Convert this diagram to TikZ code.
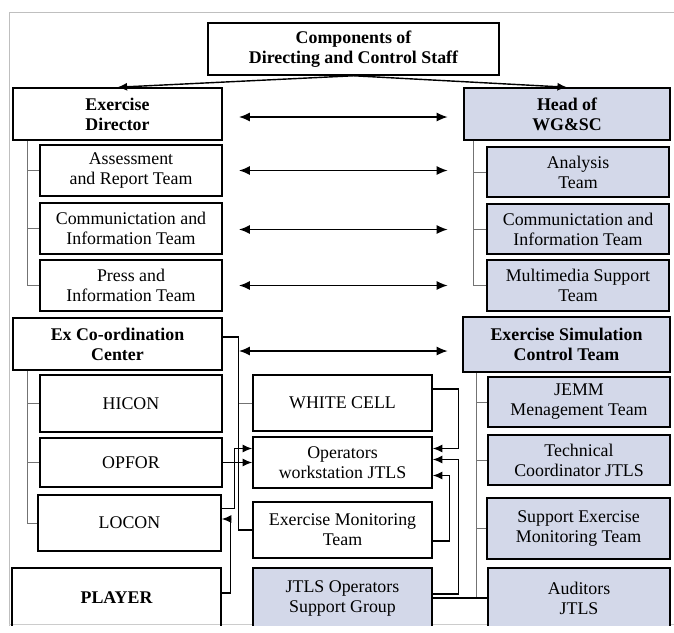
\documentclass[tikz,border=0pt]{standalone}
\usepackage{fontspec}
\setmainfont{Liberation Serif}
\usepackage{tikz}
\usetikzlibrary{calc,arrows.meta}
\definecolor{simblue}{RGB}{211,216,233}
\tikzset{
	box/.style={draw, line width=1.1pt, inner sep=0pt, align=center, font=\fontsize{12.7}{14.2}\selectfont},
	hbox/.style={box, font=\fontsize{12.7}{14.2}\selectfont\bfseries},
	sim/.style={fill=simblue},
	sz/.style 2 args={minimum width=#1*0.025cm, minimum height=#2*0.025cm},
	link/.style={line width=1pt},
	arr/.style={line width=1pt, -{Latex[length=2.4mm, width=2mm]}},
	darr/.style={line width=1.3pt, {Latex[length=2.8mm, width=2.3mm]}-{Latex[length=2.8mm, width=2.3mm]}},
	bus/.style={draw=black!55, line width=0.7pt}
}

\begin{document}
\begin{tikzpicture}[x=0.025cm, y=-0.025cm]
		%%%%% START %%%%%
		\useasboundingbox (0, 0) rectangle (674, 632);
		\begin{scope}
		\clip (0, 0) rectangle (674, 625);
		
		\draw[black!25, line width=0.6pt] (9, 632) -- (9, 12) -- (674, 12);
		\draw[black!20, line width=0.5pt] (9, 624.5) -- (674, 624.5);
		
		\node[hbox, sz={291}{52}] (top) at (353.5, 49) {Components of\\Directing and Control Staff};
		
		\node[hbox, sz={209}{52}] (ed) at (117.5, 114) {Exercise\\Director};
		\node[hbox, sim, sz={206}{52}] (head) at (567, 114) {Head of\\WG\&SC};
		
		\node[box, sz={182}{51}] (art) at (131, 170.5) {Assessment\\and Report Team};
		\node[box, sz={182}{51}] (cit) at (131, 228.5) {Communictation and\\Information Team};
		\node[box, sz={182}{51}] (pit) at (131, 285.5) {Press and\\Information Team};
		
		\node[box, sim, sz={182}{50}] (at) at (578, 172) {Analysis\\Team};
		\node[box, sim, sz={182}{50}] (cit2) at (578, 229) {Communictation and\\Information Team};
		\node[box, sim, sz={182}{51}] (mst) at (578, 285.5) {Multimedia Support\\Team};
		
		\node[hbox, sz={209}{52}] (ecc) at (117.5, 344) {Ex Co-ordination\\Center};
		\node[hbox, sim, sz={207}{55}] (esct) at (566.5, 344.5) {Exercise Simulation\\Control Team};
		
		\node[box, sz={182}{57}] (hicon) at (131, 403.5) {HICON};
		\node[box, sz={182}{49}] (opfor) at (131, 462.5) {OPFOR};
		\node[box, sz={183}{56}] (locon) at (129.5, 523) {LOCON};
		\node[hbox, sz={209}{60}] (player) at (116.5, 598) {PLAYER};
		
		\node[box, sz={179}{56}] (wc) at (342.5, 403) {WHITE CELL};
		\node[box, sz={179}{51}] (ows) at (342.5, 462.5) {Operators\\workstation JTLS};
		\node[box, sz={179}{56}] (emt) at (342.5, 530) {Exercise Monitoring\\Team};
		\node[box, sim, sz={179}{60}] (jos) at (342.5, 598) {JTLS Operators\\Support Group};
		
		\node[box, sim, sz={182}{50}] (jemm) at (579, 402) {JEMM\\Menagement Team};
		\node[box, sim, sz={182}{50}] (tc) at (579, 460) {Technical\\Coordinator JTLS};
		\node[box, sim, sz={183}{61}] (semt) at (578.5, 528.5) {Support Exercise\\Monitoring Team};
		\node[box, sim, sz={182}{60}] (aud) at (579, 598) {Auditors\\JTLS};
		
		% top level
		\draw[arr] (top.south) -- (ed.north);
		\draw[arr] (top.south) -- (head.north);
		
		\draw[darr] ($(ed.east)+(16, 3)$) -- ++(209, 0);
		\draw[darr] ($(art.east)+(16, 0)$) -- ++(209, 0);
		\draw[darr] ($(cit.east)+(16, 1)$) -- ++(209, 0);
		\draw[darr] ($(pit.east)+(16, 0)$) -- ++(209, 0);
		\draw[darr] ($(ecc.east)+(16, 7)$) -- ++(209, 0);
		
		% group lines
		\coordinate (edbus) at ($(ed.south west)+(15, 0)$);
		\draw[bus] (edbus) |- (pit.west);
		\draw[bus] (edbus |- art.west) -- (art.west);
		\draw[bus] (edbus |- cit.west) -- (cit.west);
		
		\coordinate (hdbus) at ($(head.south west)+(10, 0)$);
		\draw[bus] (hdbus) |- (mst.west);
		\draw[bus] (hdbus |- at.west) -- (at.west);
		\draw[bus] (hdbus |- cit2.west) -- (cit2.west);
		
		\coordinate (eccbus) at ($(ecc.south west)+(15, 0)$);
		\draw[bus] (eccbus) |- (locon.west);
		\draw[bus] (eccbus |- hicon.west) -- (hicon.west);
		\draw[bus] (eccbus |- opfor.west) -- (opfor.west);
		
		\coordinate (esbus) at ($(esct.south west)+(14, 0)$);
		\draw[bus] (esbus) -- (esbus |- aud.west);
		\draw[bus] (esbus |- jemm.west) -- (jemm.west);
		\draw[bus] (esbus |- tc.west) -- (tc.west);
		\draw[bus] (esbus |- semt.west) -- (semt.west);
		\draw[link] (jos.east) -- (aud.west);
		
		% centre links
		\coordinate (eccx) at ($(ecc.east)+(16, -7)$);
		\draw[link] ($(ecc.east)+(0, -7)$) -- (eccx) |- (emt.west);
		\draw[bus] (eccx |- wc.west) -- (wc.west);
		\draw[arr] ($(locon.north east)+(0, 14)$) -- ++(13, 0) |- ($(ows.west)+(0, -14)$);
		\draw[arr] (opfor.east) -- (ows.west);
		\draw[arr] ($(player.east)+(0, -5)$) -- ++(9, 0) |- ($(locon.east)+(0, -4)$);
		
		\draw[arr] ($(wc.east)+(0, -14)$) -- ++(26, 0) |- ($(ows.east)+(0, -14)$);
		\draw[arr] ($(jos.east)+(0, -4)$) -- ++(26, 0) |- ($(ows.east)+(0, -3)$);
		\draw[arr] ($(emt.east)+(0, 11)$) -- ++(17, 0) |- ($(ows.east)+(0, 13)$);
		
		\end{scope}
		%%%%% END %%%%%
\end{tikzpicture}
\end{document}
